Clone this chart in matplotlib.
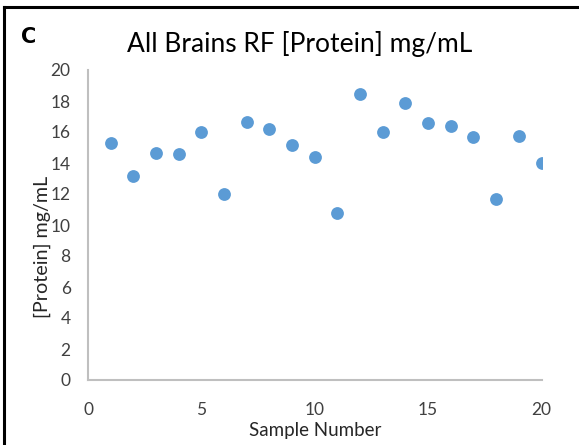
import matplotlib
matplotlib.use("Agg")
import matplotlib.pyplot as plt
from matplotlib.lines import Line2D

sample = list(range(1, 21))
protein = [15.32, 13.16, 14.66, 14.58, 16.02, 12.0, 16.62, 16.21, 15.16, 14.41,
           10.77, 18.43, 15.98, 17.85, 16.56, 16.41, 15.70, 11.70, 15.76, 14.02]
xticks = [0, 5, 10, 15, 20]
yticks = list(range(0, 21, 2))

plt.rcParams['font.family'] = ['Lato', 'DejaVu Sans']

W, H = 579, 445
fig = plt.figure(figsize=(W / 100, H / 100), dpi=100)
ax_w = 541.5 - 88
ax = fig.add_axes([88 / W, 1 - 380 / H, ax_w / W, (380 - 70) / H])

ax.scatter(sample, protein, s=85, color='#5b9bd5', zorder=3, linewidths=0)
ax.set_xlim(0, 20)
ax.set_ylim(0, 20)
ax.set_xticks(xticks)
ax.set_yticks(yticks)
for s in ['top', 'right']:
    ax.spines[s].set_visible(False)
for s in ['left', 'bottom']:
    ax.spines[s].set_color('#bfbfbf')
    ax.spines[s].set_linewidth(1.5)
ax.tick_params(length=0, labelsize=12.5, colors='#404040')
ax.tick_params(axis='y', pad=12.5)
ax.tick_params(axis='x', pad=16)
ax.set_xlabel('Sample Number', fontsize=13.5, color='#262626', labelpad=3)
ax.set_ylabel('[Protein] mg/mL', fontsize=14.2, color='#262626')
ax.yaxis.set_label_coords((51 - 88) / ax_w, 0.43)

fig.text(300 / W, 1 - 44 / H, 'All Brains RF [Protein] mg/mL',
         ha='center', va='center', fontsize=19, color='#000000')
fig.text(21 / W, 1 - 37 / H, 'C', ha='left', va='center', fontsize=15,
         fontweight='bold', color='#000000', family=['DejaVu Sans'])

fig.add_artist(Line2D([4 / W, 1], [1 - 7 / H, 1 - 7 / H], color='black', lw=2.2,
                      transform=fig.transFigure))
fig.add_artist(Line2D([4 / W, 4 / W], [0, 1 - 7 / H], color='black', lw=2.2,
                      transform=fig.transFigure))

fig.savefig('out.png', dpi=100)
